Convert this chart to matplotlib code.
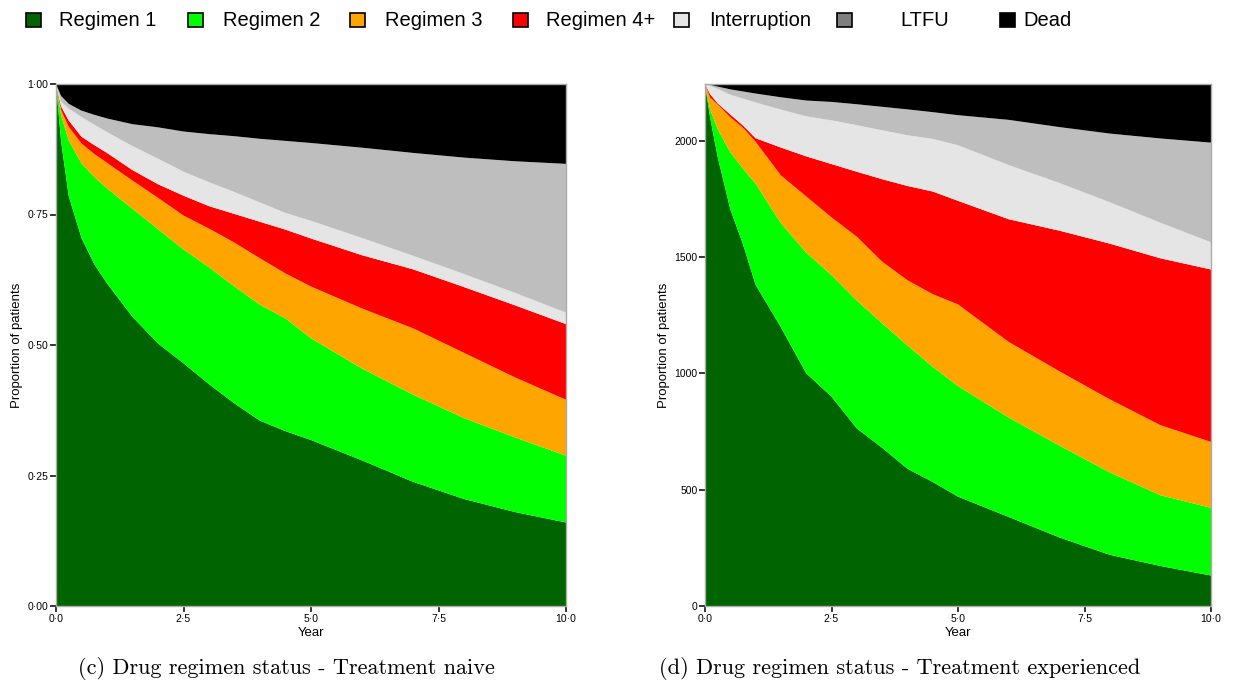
import matplotlib
matplotlib.use("Agg")
import matplotlib.pyplot as plt
from matplotlib.patches import Rectangle
import numpy as np

# ---------------- data ----------------
years = [0, 0.1, 0.25, 0.5, 0.75, 1, 1.5, 2, 2.5, 3, 3.5, 4, 4.5, 5, 6, 7, 8, 9, 10]

categories = ["Regimen 1", "Regimen 2", "Regimen 3", "Regimen 4+", "Interruption", "LTFU", "Dead"]

# Panel (c): cumulative upper boundaries (proportion)
naive_r1 = [1.0, 0.89, 0.785, 0.705, 0.655, 0.618, 0.554, 0.503, 0.465, 0.425, 0.388, 0.355, 0.335, 0.318, 0.279, 0.238, 0.205, 0.180, 0.160]
naive_r2 = [1.0, 0.94, 0.892, 0.848, 0.822, 0.800, 0.761, 0.722, 0.683, 0.649, 0.612, 0.577, 0.551, 0.513, 0.455, 0.405, 0.360, 0.323, 0.288]
naive_r3 = [1.0, 0.95, 0.918, 0.886, 0.866, 0.849, 0.815, 0.782, 0.748, 0.723, 0.696, 0.666, 0.637, 0.612, 0.570, 0.532, 0.485, 0.438, 0.395]
naive_r4 = [1.0, 0.957, 0.930, 0.899, 0.883, 0.868, 0.835, 0.808, 0.786, 0.766, 0.751, 0.736, 0.721, 0.704, 0.672, 0.645, 0.611, 0.576, 0.540]
naive_int = [1.0, 0.966, 0.953, 0.937, 0.922, 0.908, 0.881, 0.857, 0.832, 0.812, 0.793, 0.773, 0.753, 0.738, 0.705, 0.671, 0.636, 0.600, 0.562]
naive_ltfu = [1.0, 0.977, 0.962, 0.949, 0.941, 0.934, 0.923, 0.917, 0.909, 0.904, 0.900, 0.895, 0.891, 0.887, 0.878, 0.868, 0.859, 0.852, 0.847]
naive_dead = [1.0] * len(years)

# Panel (d): cumulative upper boundaries (patients)
exp_r1 = [2243, 2100, 1930, 1705, 1555, 1380, 1198, 1000, 900, 763, 680, 590, 533, 470, 383, 295, 220, 172, 131]
exp_r2 = [2243, 2135, 2050, 1950, 1880, 1815, 1645, 1519, 1422, 1313, 1215, 1120, 1028, 945, 810, 690, 574, 476, 422]
exp_r3 = [2243, 2185, 2155, 2100, 2055, 1995, 1850, 1760, 1670, 1587, 1480, 1400, 1340, 1296, 1135, 1009, 888, 777, 705]
exp_r4 = [2243, 2200, 2160, 2112, 2065, 2010, 1970, 1932, 1899, 1866, 1834, 1805, 1781, 1741, 1662, 1613, 1557, 1494, 1446]
exp_int = [2243, 2235, 2222, 2197, 2180, 2164, 2133, 2104, 2087, 2066, 2044, 2023, 2007, 1980, 1895, 1818, 1735, 1647, 1563]
exp_ltfu = [2243, 2240, 2232, 2220, 2211, 2202, 2186, 2172, 2166, 2156, 2145, 2134, 2122, 2109, 2089, 2058, 2030, 2009, 1991]
exp_dead = [2243] * len(years)

x_ticks = [0, 2.5, 5, 7.5, 10]
x_ticklabels = ["0\u00b70", "2\u00b75", "5\u00b70", "7\u00b75", "10\u00b70"]
naive_yticks = [0, 0.25, 0.5, 0.75, 1.0]
naive_yticklabels = ["0\u00b700", "0\u00b725", "0\u00b750", "0\u00b775", "1\u00b700"]
exp_yticks = [0, 500, 1000, 1500, 2000]
exp_yticklabels = ["0", "500", "1000", "1500", "2000"]

captions = ["(c) Drug regimen status - Treatment naive",
            "(d) Drug regimen status - Treatment experienced"]

colors = ["#006400", "#00ff00", "#ffa500", "#ff0000", "#e5e5e5", "#bebebe", "#000000"]
legend_colors = ["#006400", "#00ff00", "#ffa500", "#ff0000", "#e5e5e5", "#7f7f7f", "#000000"]

# ---------------- figure ----------------
W, H = 1237, 683
fig = plt.figure(figsize=(W / 100, H / 100), dpi=100)
SANS = "Liberation Sans"


def px_axes(x0, y0, x1, y1):
    return fig.add_axes([x0 / W, 1 - y1 / H, (x1 - x0) / W, (y1 - y0) / H])


def draw_panel(ax, bounds, ymax, yticks, yticklabels):
    x = np.array(years)
    lower = np.zeros(len(years))
    for b, c in zip(bounds, colors):
        b = np.array(b, dtype=float)
        ax.fill_between(x, lower, b, color=c, linewidth=0, edgecolor="none")
        lower = b
    ax.set_xlim(0, 10)
    ax.set_ylim(0, ymax)
    ax.set_xticks(x_ticks)
    ax.set_xticklabels(x_ticklabels, fontsize=7.5, family=SANS)
    ax.set_yticks(yticks)
    ax.set_yticklabels(yticklabels, fontsize=7.5, family=SANS)
    ax.tick_params(length=4, width=1.1, color="black", pad=1.5)
    for s in ax.spines.values():
        s.set_color("#aaaaaa")
        s.set_linewidth(1.0)
    ax.set_xlabel("Year", fontsize=9.5, family=SANS, labelpad=2.5)
    ax.set_ylabel("Proportion of patients", fontsize=9.5, family=SANS, labelpad=3)


ax1 = px_axes(56, 84, 566, 606)
draw_panel(ax1, [naive_r1, naive_r2, naive_r3, naive_r4, naive_int, naive_ltfu, naive_dead],
           1.0, naive_yticks, naive_yticklabels)

ax2 = px_axes(705, 84, 1211, 606)
draw_panel(ax2, [exp_r1, exp_r2, exp_r3, exp_r4, exp_int, exp_ltfu, exp_dead],
           2243, exp_yticks, exp_yticklabels)

# captions
fig.text(286 / W, 1 - 668 / H, captions[0], ha="center", va="center",
         fontsize=16, family="cmr10")
fig.text(900 / W, 1 - 668 / H, captions[1], ha="center", va="center",
         fontsize=16, family="cmr10")

# legend
sq_left = [26, 188, 350, 513, 674, 837, 1000]
txt_left = [59, 223, 385, 546, 709, 900, 1023]
for lab, col, sx, tx in zip(categories, legend_colors, sq_left, txt_left):
    fig.patches.append(Rectangle((sx / W, 1 - 27 / H), 15 / W, 14 / H,
                                 transform=fig.transFigure, facecolor=col,
                                 edgecolor="black", linewidth=1.2))
    fig.text(tx / W, 1 - 20 / H, lab, ha="left", va="center",
             fontsize=14.5, family=SANS)

fig.savefig("out.png", dpi=100)
